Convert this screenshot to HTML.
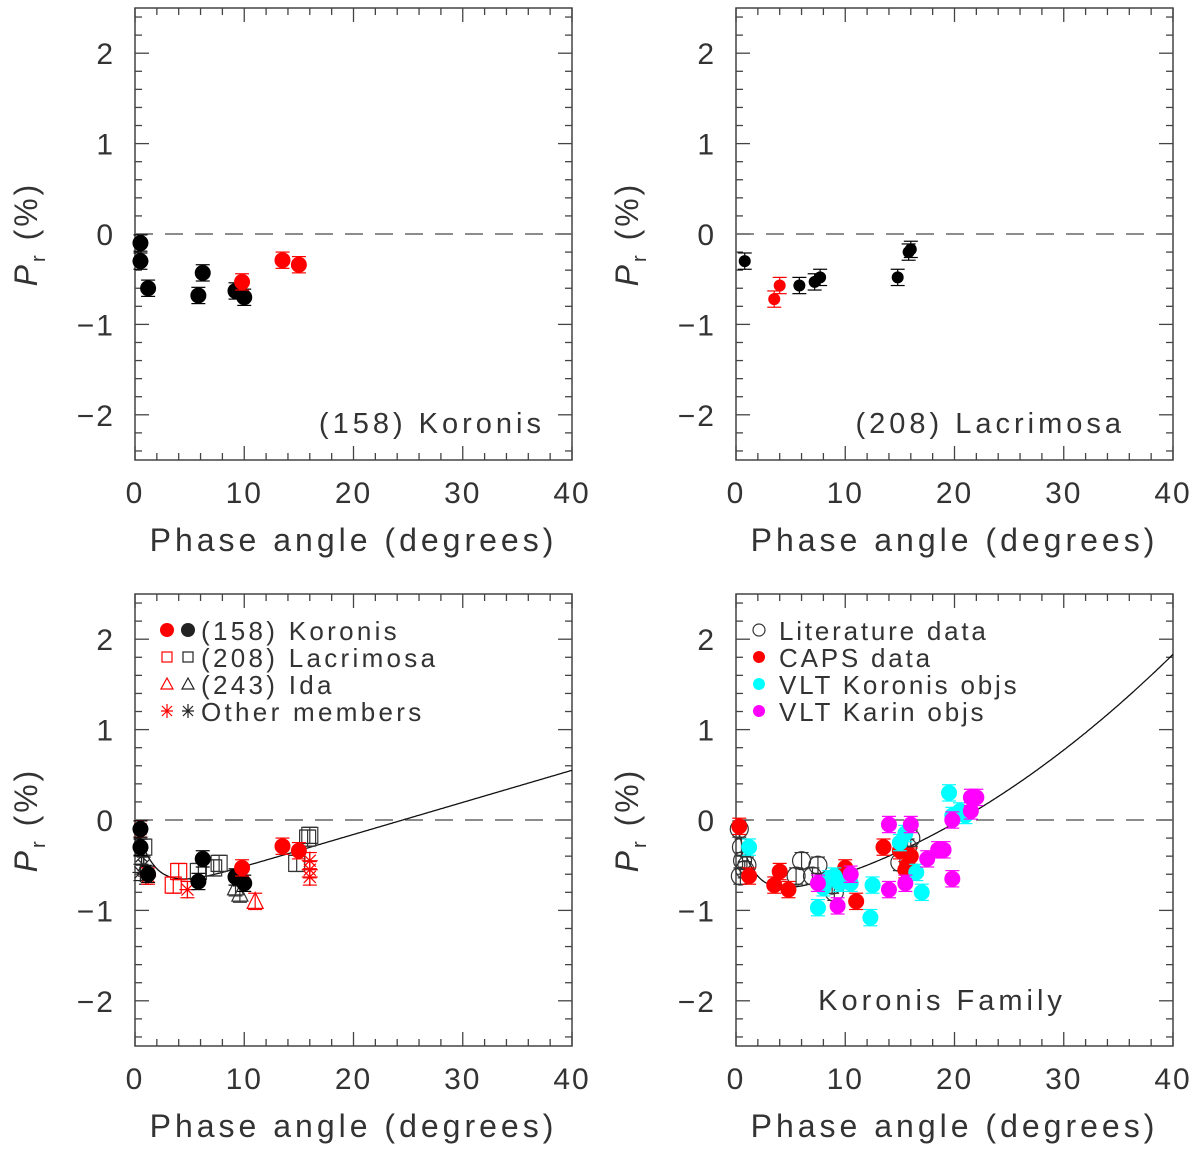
<!DOCTYPE html>
<html><head><meta charset="utf-8"><style>
html,body{margin:0;padding:0;background:#fff;}
svg{display:block;}
text{font-family:"Liberation Sans",sans-serif;fill:#333;}
</style></head><body>
<svg id="fig" width="1200" height="1151" viewBox="0 0 1200 1151" xmlns="http://www.w3.org/2000/svg"></svg>
<script>
// ---- data ----
const korBlackX=[0.5,0.5,1.2,5.8,6.2,9.2,10.0];
const korBlackY=[-0.10,-0.30,-0.60,-0.68,-0.43,-0.63,-0.70];
const korRedX=[9.8,13.5,15.0];
const korRedY=[-0.53,-0.29,-0.34];
const lacBlackX=[0.8,5.8,7.2,7.7,14.8,15.8,16.0];
const lacBlackY=[-0.30,-0.57,-0.53,-0.48,-0.48,-0.20,-0.17];
const lacRedX=[3.5,4.0];
const lacRedY=[-0.72,-0.57];
const idaBlackX=[9.2,9.6];
const idaBlackY=[-0.75,-0.82];
const idaRedX=[11.0];
const idaRedY=[-0.90];
const othRedX=[0.5,1.2,4.8,16.0,16.0,16.0];
const othRedY=[-0.10,-0.62,-0.77,-0.45,-0.55,-0.63];
const othBlackX=[0.6,0.8,0.5,1.0];
const othBlackY=[-0.40,-0.50,-0.58,-0.62];
const litX=[0.3,0.5,0.6,0.8,1.0,0.4,6.0,5.5,7.5,7.0,9.0,8.8,15.0,16.0,15.7];
const litY=[-0.10,-0.30,-0.45,-0.55,-0.50,-0.62,-0.45,-0.62,-0.50,-0.62,-0.80,-0.72,-0.47,-0.20,-0.30];
const capsX=[0.3,1.2,3.5,4.0,4.8,10.0,11.0,13.5,15.0,15.7,16.0,15.5];
const capsY=[-0.07,-0.62,-0.72,-0.57,-0.77,-0.53,-0.90,-0.30,-0.34,-0.50,-0.40,-0.55];
const vkX=[1.2,7.5,8.0,8.5,9.0,9.5,10.5,12.5,12.3,15.0,15.5,16.5,17.0,19.5,19.8,20.5,21.0];
const vkY=[-0.30,-0.97,-0.75,-0.65,-0.62,-0.70,-0.70,-0.72,-1.08,-0.25,-0.15,-0.58,-0.80,0.30,0.05,0.10,0.05];
const vkaX=[7.5,9.3,10.5,14.0,14.0,15.5,16.0,17.5,18.5,19.0,19.8,19.8,21.5,22.0,21.5];
const vkaY=[-0.70,-0.95,-0.60,-0.05,-0.77,-0.70,-0.05,-0.43,-0.33,-0.33,-0.65,0.00,0.25,0.25,0.10];
const fitBL=[0.87,1.66,0.0355,0.0];
const fitBR=[0.90,1.50,0.0183,0.00125];
const xTicks=[0,10,20,30,40];
const yTicks=[2,1,0,-1,-2];
const ERR=0.09;

const NS='http://www.w3.org/2000/svg';
const svg=document.getElementById('fig');
function el(tag,attrs,parent){const e=document.createElementNS(NS,tag);for(const k in attrs)e.setAttribute(k,attrs[k]);(parent||svg).appendChild(e);return e;}

function makePanel(x0,top,name){
  const W=437,H=452;
  const g=el('g',{});
  
  
  const sx=v=>x0+v/40*W;
  const sy=v=>top+(2.5-v)/5*H;
  el('rect',{x:x0,y:top,width:W,height:H,fill:'none',stroke:'#444','stroke-width':1.5},g);
  for(let v=0;v<=40;v+=2){const maj=v%10===0;const L=maj?14:7;
    el('line',{x1:sx(v),x2:sx(v),y1:top+H,y2:top+H-L,stroke:'#444','stroke-width':1.3},g);
    el('line',{x1:sx(v),x2:sx(v),y1:top,y2:top+L,stroke:'#444','stroke-width':1.3},g);}
  for(let i=-12;i<=12;i++){const v=i*0.2;const maj=i%5===0;const L=maj?14:7;
    el('line',{x1:x0,x2:x0+L,y1:sy(v),y2:sy(v),stroke:'#444','stroke-width':1.3},g);
    el('line',{x1:x0+W,x2:x0+W-L,y1:sy(v),y2:sy(v),stroke:'#444','stroke-width':1.3},g);}
  xTicks.forEach(v=>{const t=el('text',{x:sx(v),y:top+H+43,'font-size':30,'text-anchor':'middle','letter-spacing':'2'},g);t.textContent=v;
    });
  yTicks.forEach(v=>{const t=el('text',{x:x0-20,y:sy(v)+11,'font-size':30,'text-anchor':'end','letter-spacing':'2'},g);t.textContent=(v<0?'\u2212'+(-v):v);
    });
  const xl=el('text',{x:x0+W/2,y:top+H+91,'font-size':32,'text-anchor':'middle','letter-spacing':'4'},g);
  xl.textContent='Phase angle (degrees)';
  
  const yl=el('text',{transform:`translate(${x0-98},${sy(0)}) rotate(-90)`,'font-size':32,'text-anchor':'middle','letter-spacing':'3'},g);
  yl.innerHTML='<tspan font-style="italic">P</tspan><tspan font-size="20" dy="8">r</tspan><tspan dy="-8"> (%)</tspan>';
  
  const z=el('line',{x1:x0,x2:x0+W,y1:sy(0),y2:sy(0),stroke:'#666','stroke-width':1.6,'stroke-dasharray':'18 12'},g);
  
  return {g,sx,sy};
}

function errbar(P,x,y,col){
  el('line',{x1:P.sx(x),x2:P.sx(x),y1:P.sy(y-ERR),y2:P.sy(y+ERR),stroke:col,'stroke-width':1.2},P.g);
  [y-ERR,y+ERR].forEach(v=>el('line',{x1:P.sx(x)-7,x2:P.sx(x)+7,y1:P.sy(v),y2:P.sy(v),stroke:col,'stroke-width':1.2},P.g));
}
function marker(P,type,x,y,col,parent){
  const cx=P.sx(x),cy=P.sy(y);let m;const g=parent||P.g;
  if(type==='dot')m=el('circle',{cx,cy,r:8,fill:col},g);
  else if(type==='sdot')m=el('circle',{cx,cy,r:6,fill:col},g);
  else if(type==='circ')m=el('circle',{cx,cy,r:9,fill:'none',stroke:col,'stroke-width':1.2},g);
  else if(type==='sq')m=el('rect',{x:cx-8,y:cy-8,width:16,height:16,fill:'none',stroke:col,'stroke-width':1.2},g);
  else if(type==='tri')m=el('path',{d:`M${cx},${cy-9}L${cx+8},${cy+7}L${cx-8},${cy+7}Z`,fill:'none',stroke:col,'stroke-width':1.2},g);
  else if(type==='star'){m=el('path',{d:`M${cx-8},${cy}H${cx+8}M${cx},${cy-9}V${cy+9}M${cx-6},${cy-6}L${cx+6},${cy+6}M${cx-6},${cy+6}L${cx+6},${cy-6}`,stroke:col,'stroke-width':1.2,fill:'none'},g);}
  return m;
}
function series(P,xs,ys,type,col,name,err){
  for(let i=0;i<xs.length;i++){
    if(err!==false)errbar(P,xs[i],ys[i],col);
    const m=marker(P,type,xs[i],ys[i],col);
    
    
  }
}
function fitLine(P,p,name){
  let d='';
  for(let i=0;i<=400;i++){const x=0.3+i*(39.7/400);
    const y=p[0]*(Math.exp(-x/p[1])-1)+p[2]*x+p[3]*x*x;
    d+=(i?'L':'M')+P.sx(x).toFixed(1)+','+P.sy(y).toFixed(1);}
  const l=el('path',{d,fill:'none',stroke:'#111','stroke-width':1.3},P.g);
  
  
}
function label(P,x,y,txt,anchor,name){
  const t=el('text',{x,y,'font-size':29,'text-anchor':anchor||'start','letter-spacing':'4'},P.g);
  t.textContent=txt;
  
  
}

// Panel TL
let P=makePanel(135,8,'panel-koronis');
series(P,korBlackX,korBlackY,'dot','#000','koronis-point');
series(P,korRedX,korRedY,'dot','#f00','koronis-caps-point');
label(P,545,433,'(158) Koronis','end','panel-title');

// Panel TR
P=makePanel(736,8,'panel-lacrimosa');
series(P,lacBlackX,lacBlackY,'sdot','#000','lacrimosa-point');
series(P,lacRedX,lacRedY,'sdot','#f00','lacrimosa-caps-point');
label(P,1125,433,'(208) Lacrimosa','end','panel-title');

// Panel BL
P=makePanel(135,594,'panel-koronis-lacrimosa-ida');
fitLine(P,fitBL,'fit-curve');
series(P,lacBlackX,lacBlackY,'sq','#333','lacrimosa-point');
series(P,lacRedX,lacRedY,'sq','#f00','lacrimosa-caps-point');
series(P,idaBlackX,idaBlackY,'tri','#333','ida-point');
series(P,idaRedX,idaRedY,'tri','#f00','ida-caps-point');
series(P,othBlackX,othBlackY,'star','#222','other-member-point');
series(P,othRedX,othRedY,'star','#f00','other-member-caps-point');
series(P,korBlackX,korBlackY,'dot','#000','koronis-point');
series(P,korRedX,korRedY,'dot','#f00','koronis-caps-point');
(function(){
  const rows=[['dot','(158) Koronis',630],['sq','(208) Lacrimosa',657],['tri','(243) Ida',684],['star','Other members',711]];
  rows.forEach(r=>{
    const lg=el('g',{},P.g);
    
    
    const mk=(x,col)=>{const cx=x,cy=r[2];
      if(r[0]==='dot')el('circle',{cx,cy,r:7,fill:col},lg);
      else if(r[0]==='sq')el('rect',{x:cx-5,y:cy-5,width:10,height:10,fill:'none',stroke:col,'stroke-width':1.2},lg);
      else if(r[0]==='tri')el('path',{d:`M${cx},${cy-6}L${cx+6},${cy+5}L${cx-6},${cy+5}Z`,fill:'none',stroke:col,'stroke-width':1.2},lg);
      else el('path',{d:`M${cx-6},${cy}H${cx+6}M${cx},${cy-7}V${cy+7}M${cx-5},${cy-5}L${cx+5},${cy+5}M${cx-5},${cy+5}L${cx+5},${cy-5}`,stroke:col,'stroke-width':1.2},lg);};
    mk(167,'#f00');mk(188,'#222');
    const t=el('text',{x:201,y:r[2]+10,'font-size':26,'letter-spacing':'3.3'},lg);t.textContent=r[1];
  });
})();

// Panel BR
P=makePanel(736,594,'panel-koronis-family');
fitLine(P,fitBR,'fit-curve');
series(P,litX,litY,'circ','#333','literature-point');
series(P,capsX,capsY,'dot','#f00','caps-point');
series(P,vkX,vkY,'dot','#0ff','vlt-koronis-point');
series(P,vkaX,vkaY,'dot','#f0f','vlt-karin-point');
(function(){
  const rows=[['circ','#333','Literature data',630],['dot','#f00','CAPS data',657],['dot','#0ff','VLT Koronis objs',684],['dot','#f0f','VLT Karin objs',711]];
  rows.forEach(r=>{
    const lg=el('g',{},P.g);
    
    
    if(r[0]==='circ')el('circle',{cx:759,cy:r[3],r:6,fill:'none',stroke:r[1],'stroke-width':1.2},lg);
    else el('circle',{cx:759,cy:r[3],r:6,fill:r[1]},lg);
    const t=el('text',{x:779,y:r[3]+10,'font-size':26,'letter-spacing':'2.8'},lg);t.textContent=r[2];
  });
})();
label(P,942,1010,'Koronis Family','middle','panel-title');
</script>
</body></html>
